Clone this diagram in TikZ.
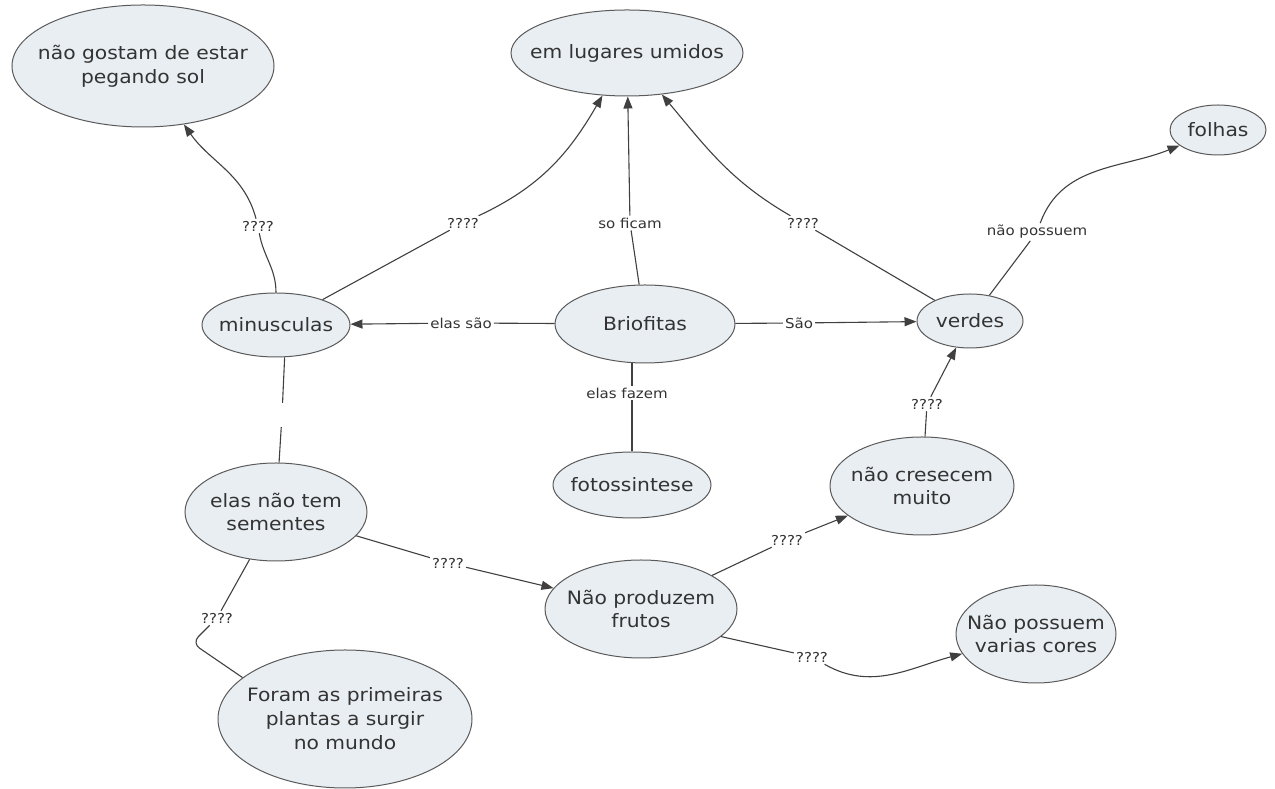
\documentclass[tikz,border=0pt]{standalone}
\usepackage{fontspec}
\setmainfont{DejaVu Sans}[FakeStretch=1.1]
\usetikzlibrary{shapes.geometric,arrows.meta}

\definecolor{conceptfill}{HTML}{E9EEF2}
\definecolor{conceptline}{HTML}{5A5A5A}
\definecolor{linkline}{HTML}{404040}
\definecolor{inkgray}{HTML}{333333}

\tikzset{
  concept/.style={ellipse, draw=conceptline, fill=conceptfill, line width=1bp, inner sep=0pt},
  concepttext/.style={align=center, text=inkgray, inner sep=0pt, font=\fontsize{18.5}{24}\selectfont},
  lbl/.style={inner sep=2bp, text=inkgray, font=\fontsize{13.7}{16}\selectfont},
  link/.style={draw=linkline, line width=1.1bp},
  arr/.style={link, -{Triangle[length=12bp,width=9bp]}},
}

% concept ellipse: name, centre, width, height, text
\newcommand\conceptnode[5]{%
  \node[concept, minimum width=#3, minimum height=#4,
        label={[concepttext]center:{#5}}] (#1) at (#2) {};}

\begin{document}
\begin{tikzpicture}[x=1bp,y=1bp]
\useasboundingbox (0,0) rectangle (1275,789);

% concepts
\conceptnode{gostam}{143,723}{262bp}{122bp}{não gostam de estar\\pegando sol}
\conceptnode{umidos}{627,736}{232bp}{86bp}{em lugares umidos}
\conceptnode{folhas}{1218,659}{96bp}{50bp}{folhas}
\conceptnode{minusc}{276,464}{148bp}{64bp}{minusculas}
\conceptnode{brio}{645,465}{180bp}{78bp}{Briofitas}
\conceptnode{verdes}{970,468}{106bp}{54bp}{verdes}
\conceptnode{foto}{632,304}{158bp}{66bp}{fotossintese}
\conceptnode{cresc}{922,303}{184bp}{98bp}{não cresecem\\muito}
\conceptnode{sement}{276,277}{182bp}{98bp}{elas não tem\\sementes}
\conceptnode{produz}{641,180}{192bp}{98bp}{Não produzem\\frutos}
\conceptnode{cores}{1036,155}{160bp}{98bp}{Não possuem\\varias cores}
\conceptnode{foram}{345,70}{254bp}{138bp}{Foram as primeiras\\plantas a surgir\\no mundo}

% links from Briofitas
\node[lbl] (lsao1) at (461,466) {elas são};
\draw[link] (brio) -- (lsao1);
\draw[arr] (lsao1) -- (minusc);

\node[lbl] (lsao2) at (799,466) {São};
\draw[link] (brio) -- (lsao2);
\draw[arr] (lsao2) -- (verdes);

\node[lbl] (lfic) at (630,566) {so ficam};
\draw[link] (brio) -- (lfic);
\draw[arr] (lfic) -- (umidos);

\node[lbl] (lfaz) at (627,396) {elas fazem};
\draw[link] (foto.north |- brio.south) -- (foto.north |- lfaz.north);
\draw[link] (foto.north |- lfaz.south) -- (foto);

% links from minusculas
\node[lbl] (lq1) at (258,563) {????};
\draw[link] (minusc) to[out=90,in=-80] (lq1);
\draw[arr] (lq1) to[out=105,in=-55] (gostam);

\node[lbl] (lq2) at (463,566) {????};
\draw[link] (minusc) -- (lq2);
\draw[arr] (lq2) to[out=25,in=-120] (umidos);

\node[inner sep=0pt, minimum width=4bp, minimum height=24bp] (gap) at (282,374) {};
\draw[link] (minusc.-75) -- (gap);
\draw[link] (gap) -- (sement);

% links from verdes
\node[lbl] (lq3) at (803,566) {????};
\draw[link] (verdes) -- (lq3);
\draw[arr] (lq3) to[out=150,in=-50] (umidos);

\node[lbl] (lpos) at (1037,557) {não possuem};
\draw[link] (verdes) -- (lpos);
\draw[arr] (lpos) to[out=70,in=202] (folhas);

% link from não cresecem muito
\node[lbl] (lq4) at (927,385) {????};
\draw[link] (cresc) -- (lq4);
\draw[arr] (lq4) -- (verdes);

% links from elas não tem sementes
\node[lbl] (lq5) at (448,226) {????};
\draw[link] (sement) -- (lq5);
\draw[arr] (lq5) -- (produz);

\node[lbl] (lq6) at (217,171) {????};
\coordinate (bend) at (192,146);
\draw[link] (sement) -- (lq6);
\draw[link, rounded corners=9bp] (lq6) -- (bend) -- (foram.158);

% links from Não produzem frutos
\node[lbl] (lq7) at (787,249) {????};
\draw[link] (produz) -- (lq7);
\draw[arr] (lq7) -- (cresc);

\node[lbl] (lq8) at (812,132) {????};
\draw[link] (produz.-19) -- (lq8);
\draw[arr] (lq8) to[out=-30,in=195] (cores);

\end{tikzpicture}
\end{document}
